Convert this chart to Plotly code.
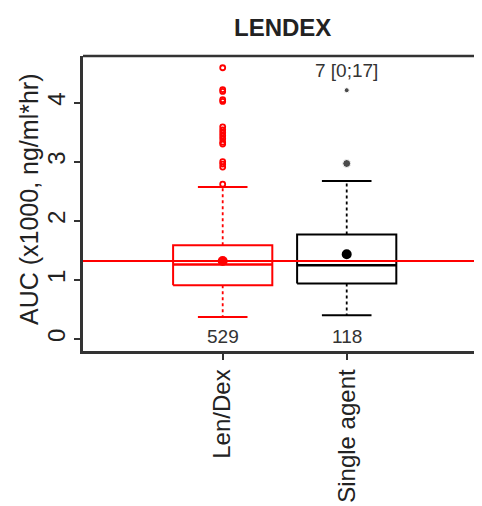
import plotly.graph_objects as go

# ---------------- data ----------------
groups = ["Len/Dex", "Single agent"]
positions = [1, 2]
q1 = [0.91, 0.94]
median = [1.26, 1.25]
q3 = [1.585, 1.767]
lower_whisker = [0.372, 0.401]
upper_whisker = [2.572, 2.673]
means = [1.32, 1.433]
outliers_lendex = [4.59, 4.22, 4.19, 4.05, 4.02, 3.59, 3.54, 3.49, 3.44, 3.39, 3.33,
                   3.30, 3.00, 2.96, 2.91, 2.62]
outliers_single = [2.97, 4.21]
counts = ["529", "118"]
top_note = "7 [0;17]"
ref_value = 1.32
y_ticks = [0, 1, 2, 3, 4]

# ---------------- style ----------------
colors = ["#ff0000", "#000000"]
FONT = "Liberation Sans, Arial, sans-serif"
half_box = 0.4
half_cap = 0.2
# page body has an 8px margin; plot area in page px: left 83, right 482, top 56, bottom 351
OFF = 8
L, R, T, B = 83 - OFF, 482 - OFF, 56 - OFF, 351 - OFF
W, H = 482 - OFF, 506 - OFF
PW, PH = R - L, B - T

fig = go.Figure()

for i, p in enumerate(positions):
    c = colors[i]
    fig.add_trace(go.Scatter(
        x=[p - half_box, p + half_box, p + half_box, p - half_box, p - half_box],
        y=[q1[i], q1[i], q3[i], q3[i], q1[i]],
        mode="lines", line=dict(color=c, width=2), hoverinfo="skip", showlegend=False))
    fig.add_trace(go.Scatter(
        x=[p - half_box, p + half_box], y=[median[i], median[i]],
        mode="lines", line=dict(color=c, width=2.5), hoverinfo="skip", showlegend=False))
    fig.add_trace(go.Scatter(
        x=[p, p, None, p, p], y=[q3[i], upper_whisker[i], None, q1[i], lower_whisker[i]],
        mode="lines", line=dict(color=c, width=1.8, dash="3px,3px"),
        hoverinfo="skip", showlegend=False))
    fig.add_trace(go.Scatter(
        x=[p - half_cap, p + half_cap, None, p - half_cap, p + half_cap],
        y=[upper_whisker[i], upper_whisker[i], None, lower_whisker[i], lower_whisker[i]],
        mode="lines", line=dict(color=c, width=2), hoverinfo="skip", showlegend=False))

fig.add_trace(go.Scatter(
    x=[positions[0]] * len(outliers_lendex), y=outliers_lendex, mode="markers",
    marker=dict(symbol="circle-open", size=5, color=colors[0], line=dict(width=1.8)),
    showlegend=False))
fig.add_trace(go.Scatter(
    x=[positions[1]] * len(outliers_single), y=outliers_single, mode="markers",
    marker=dict(symbol="circle", size=[8, 5], color=colors[1]),
    showlegend=False))

fig.add_trace(go.Scatter(
    x=positions, y=means, mode="markers",
    marker=dict(symbol="circle", size=10, color=colors),
    showlegend=False))

fig.add_shape(type="line", xref="paper", yref="y", x0=0, x1=1, y0=ref_value, y1=ref_value,
              line=dict(color="#ff0000", width=2))
fig.add_shape(type="line", xref="paper", yref="paper", x0=0, x1=1, y0=1, y1=1,
              line=dict(color="#333333", width=2.5))


def px_x(px):
    return (px - OFF - L) / PW


def px_y(py):
    return (B - (py - OFF)) / PH


annotations = []
for i, p in enumerate(positions):
    annotations.append(dict(x=p, y=0.04, xref="x", yref="y", text=counts[i], showarrow=False,
                            xanchor="center", yanchor="middle",
                            font=dict(family=FONT, size=19, color="#333333")))
annotations.append(dict(x=positions[1], y=4.54, xref="x", yref="y", text=top_note, showarrow=False,
                        xanchor="center", yanchor="middle",
                        font=dict(family=FONT, size=19, color="#333333")))
annotations.append(dict(x=px_x(282), y=px_y(28), xref="paper", yref="paper",
                        text="<b>LENDEX</b>", showarrow=False,
                        xanchor="center", yanchor="middle",
                        font=dict(family=FONT, size=24, color="#222222")))
annotations.append(dict(x=px_x(29), y=px_y(200), xref="paper", yref="paper",
                        text="AUC (x1000, ng/ml*hr)", textangle=-90, showarrow=False,
                        xanchor="center", yanchor="middle",
                        font=dict(family=FONT, size=25, color="#222222")))

fig.update_layout(
    width=W, height=H,
    margin=dict(l=L, r=W - R, t=T, b=H - B, autoexpand=False),
    paper_bgcolor="white", plot_bgcolor="white",
    annotations=annotations,
    xaxis=dict(range=[-0.1266, 3.091], tickmode="array", tickvals=positions, ticktext=groups,
               tickangle=-90, ticks="outside", ticklen=6, tickwidth=2, tickcolor="#333333",
               showline=True, linecolor="#333333", linewidth=2.5, showgrid=False, zeroline=False,
               automargin=False,
               tickfont=dict(family=FONT, size=24, color="#222222")),
    yaxis=dict(range=[-0.203, 4.789], tickmode="array", tickvals=y_ticks,
               ticktext=[str(t) for t in y_ticks], tickangle=-90,
               ticks="outside", ticklen=6, tickwidth=2, tickcolor="#333333",
               showline=True, linecolor="#333333", linewidth=2.5, showgrid=False, zeroline=False,
               automargin=False, ticklabelstandoff=0,
               tickfont=dict(family=FONT, size=24, color="#222222")),
)

fig.write_html("out.html")
